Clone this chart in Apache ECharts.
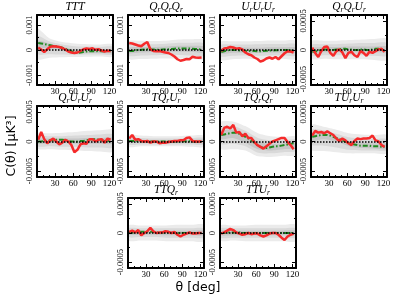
<!DOCTYPE html>
<html><head><meta charset="utf-8">
<script src="https://cdn.jsdelivr.net/npm/echarts@6.0.0/dist/echarts.min.js"></script>
<style>html,body{margin:0;padding:0;background:#fff;}#c{width:399px;height:301px;}</style>
</head><body><div id="c"></div>
<script>
// ---- data (values in units of 1e-4 uK^3) ----
const UNIT = 1e-4;
const theta = [2,7,12,17,22,27,32,37,42,47,52,57,62,67,72,77,82,87,92,97,102,107,112,117,122];
const bandTheta = [0,21,42,63,84,105,126];
const xTickLabels = [30,60,90,120];
const xMinorTicks = [10,20,40,50,70,80,100,110];
const yTicksA = [-0.001, 0, 0.001];
const yMinorA = [-0.0005, 0.0005];
const yTicksB = [-0.0005, 0, 0.0005];
const yMinorB = [-0.00025, 0.00025];

const TTT_red = [1.0,0.2,-0.8,0.3,1.3,1.5,1.4,1.2,0.8,0.2,-0.6,-1.0,-1.2,-1.0,-0.4,0.3,0.6,0.4,0.7,0.1,0.3,-0.2,-0.6,-0.3,-0.4];
const TTT_green = [2.8,2.6,2.4,2.1,1.9,1.6,1.4,1.2,0.9,0.5,0.0,-0.5,-0.9,-1.1,-1.0,-0.8,-0.6,-0.5,-0.5,-0.5,-0.4,-0.5,-0.5,-0.4,-0.5];
const TTT_outerHi = [8.5,4.6,3.2,2.6,2.3,2.2,2.2], TTT_outerLo = [-3.6,-3.1,-2.9,-2.8,-2.7,-2.6,-2.6];
const TTT_midHi = [5.6,3.4,2.2,1.5,1.4,1.3,1.3], TTT_midLo = [-1.6,-1.7,-1.8,-1.9,-1.8,-1.8,-1.8];
const TTT_innerHi = [3.8,2.6,1.3,0.2,0.3,0.3,0.3], TTT_innerLo = [1.2,0.6,-0.4,-1.5,-1.2,-1.2,-1.2];

const QQQ_red = [2.8,2.6,2.2,1.8,1.5,2.5,3.2,0.3,-0.4,-0.5,-0.4,-0.7,-1.0,-1.2,-1.8,-2.6,-3.7,-4.3,-4.0,-3.6,-3.7,-2.7,-3.0,-3.1,-3.0];
const QQQ_green = [-0.4,-0.4,-0.2,0.0,0.1,0.2,0.3,0.2,0.2,0.1,0.1,0.2,0.3,0.3,0.4,0.5,0.6,0.6,0.6,0.6,0.6,0.5,0.4,0.3,0.2];
const QQQ_outerHi = [3.4,3.7,3.6,3.7,4.2,4.3,3.9], QQQ_outerLo = [-3.5,-3.6,-3.5,-3.4,-3.4,-3.6,-3.5];
const QQQ_midHi = [2.2,2.4,2.3,2.5,2.9,2.9,2.6], QQQ_midLo = [-2.3,-2.2,-2.1,-2.0,-2.0,-2.2,-2.2];
const QQQ_innerHi = [0.9,1.2,1.2,1.4,1.7,1.7,1.4], QQQ_innerLo = [-1.3,-1.0,-0.9,-0.8,-0.7,-0.8,-0.9];

const UUU_red = [-0.4,0.6,0.8,1.2,1.0,0.5,0.7,0.2,-1.0,-1.7,-2.1,-3.0,-3.6,-4.6,-4.2,-3.4,-3.0,-3.5,-2.8,-3.7,-2.5,-1.3,-0.5,-0.6,-1.0];
const UUU_green = [-0.8,-0.5,-0.2,0.0,0.1,0.0,-0.2,-0.3,-0.4,-0.4,-0.3,-0.4,-0.5,-0.5,-0.4,-0.3,-0.2,-0.2,-0.1,-0.1,0.0,0.0,-0.1,-0.2,-0.3];
const UUU_outerHi = [3.2,3.5,3.5,3.6,3.8,3.8,3.6], UUU_outerLo = [-3.9,-3.7,-3.5,-3.6,-3.5,-3.5,-3.5];
const UUU_midHi = [2.0,2.2,2.2,2.3,2.4,2.4,2.3], UUU_midLo = [-2.5,-2.3,-2.2,-2.3,-2.2,-2.2,-2.2];
const UUU_innerHi = [0.6,1.0,1.0,0.9,1.1,1.1,1.0], UUU_innerLo = [-1.5,-1.1,-1.1,-1.2,-1.0,-1.0,-1.1];

const QQU_red = [0.4,-0.5,-1.2,-0.2,0.5,0.6,-0.5,-1.0,-0.2,0.1,-0.4,-1.4,-0.5,-0.3,-0.9,-1.2,-0.2,-0.5,-1.0,-0.3,-0.5,-0.2,0.1,0.2,-0.3];
const QQU_green = [-0.3,-0.3,-0.1,0.0,0.1,0.1,0.0,0.0,0.1,0.1,0.2,0.2,0.1,0.1,0.0,0.0,0.1,0.1,0.0,0.0,0.1,0.2,0.2,0.1,0.1];
const QQU_outerHi = [1.5,1.6,1.6,1.7,1.8,1.9,1.9], QQU_outerLo = [-1.5,-1.5,-1.6,-1.6,-1.6,-1.7,-1.7];
const QQU_midHi = [0.9,1.0,1.0,1.1,1.2,1.2,1.2], QQU_midLo = [-1.0,-0.9,-0.9,-0.9,-0.9,-1.0,-1.0];
const QQU_innerHi = [0.3,0.5,0.5,0.6,0.6,0.6,0.6], QQU_innerLo = [-0.6,-0.4,-0.4,-0.4,-0.4,-0.4,-0.4];

const QUU_red = [0.3,1.6,0.4,-0.3,0.2,0.5,0.0,-0.5,-0.2,0.3,0.0,-0.6,-1.8,-1.4,-0.5,-0.3,-0.4,0.4,0.4,0.0,0.3,0.4,-0.2,0.5,0.3];
const QUU_green = [0.0,0.0,0.1,0.1,0.2,0.2,0.3,0.3,0.3,0.2,0.1,0.0,0.0,0.0,0.1,0.1,0.2,0.3,0.4,0.4,0.3,0.2,0.1,0.1,0.1];
const QUU_outerHi = [1.3,1.4,1.5,1.6,1.8,1.9,1.9], QUU_outerLo = [-1.2,-1.3,-1.4,-1.5,-1.6,-1.7,-1.7];
const QUU_midHi = [0.8,0.9,0.9,1.0,1.1,1.2,1.2], QUU_midLo = [-0.8,-0.8,-0.9,-0.9,-1.0,-1.0,-1.0];
const QUU_innerHi = [0.4,0.5,0.5,0.5,0.6,0.6,0.6], QUU_innerLo = [-0.4,-0.3,-0.3,-0.4,-0.4,-0.4,-0.4];

const TQU_red = [0.5,1.1,0.3,0.4,0.1,0.0,0.1,-0.2,0.0,0.0,-0.3,-0.2,-0.2,-0.1,0.0,0.1,0.1,0.2,0.2,0.6,0.7,0.1,0.0,0.0,0.0];
const TQU_green = [0.1,0.1,0.1,0.1,0.05,0.05,0.0,0.0,0.0,0.0,0.0,0.0,0.0,0.0,0.0,0.0,0.0,0.0,0.05,0.05,0.05,0.0,0.0,0.0,0.0];
const TQU_outerHi = [1.1,1.0,0.9,0.9,0.9,1.0,1.0], TQU_outerLo = [-0.9,-0.8,-0.8,-0.8,-0.8,-0.9,-0.9];
const TQU_midHi = [0.6,0.6,0.5,0.5,0.5,0.6,0.6], TQU_midLo = [-0.5,-0.5,-0.5,-0.5,-0.5,-0.5,-0.5];
const TQU_innerHi = [0.3,0.3,0.25,0.25,0.25,0.3,0.3], TQU_innerLo = [-0.2,-0.2,-0.25,-0.25,-0.25,-0.25,-0.25];

const TQQ_red = [1.1,2.3,2.5,2.2,2.8,1.5,1.6,0.9,1.3,0.6,0.6,-0.1,-0.6,-0.9,-1.2,-0.8,-0.4,0.0,0.2,0.4,0.6,0.6,-0.1,-0.6,-1.3];
const TQQ_green = [1.1,1.2,1.3,1.4,1.5,1.5,1.3,1.1,0.8,0.5,0.2,-0.2,-0.6,-0.9,-1.1,-1.1,-1.0,-0.9,-0.8,-0.8,-0.7,-0.6,-0.5,-0.4,-0.3];
const TQQ_outerHi = [3.2,3.4,2.6,1.4,0.9,0.8,0.8], TQQ_outerLo = [-1.2,-1.3,-1.5,-2.5,-2.6,-2.4,-2.3];
const TQQ_midHi = [2.4,2.6,1.8,0.6,0.2,0.2,0.3], TQQ_midLo = [-0.4,-0.4,-0.8,-1.9,-2.0,-1.8,-1.6];
const TQQ_innerHi = [1.7,2.0,1.2,0.0,-0.4,-0.3,-0.1], TQQ_innerLo = [0.4,0.6,-0.2,-1.3,-1.5,-1.3,-1.1];

const TUU_red = [1.0,1.8,1.5,1.6,1.4,1.7,1.4,1.1,0.5,0.1,0.5,0.2,-0.3,-0.6,0.1,0.5,0.4,0.5,0.5,0.6,1.0,0.2,0.0,-0.6,-0.9];
const TUU_green = [0.8,0.9,1.0,1.1,1.1,1.1,1.0,0.8,0.6,0.4,0.2,0.0,-0.2,-0.4,-0.5,-0.6,-0.7,-0.7,-0.7,-0.7,-0.8,-0.8,-0.8,-0.9,-0.9];
const TUU_outerHi = [2.8,2.5,2.0,1.4,1.2,1.1,1.1], TUU_outerLo = [-1.4,-1.6,-1.8,-2.0,-2.0,-2.0,-2.0];
const TUU_midHi = [2.0,1.9,1.3,0.7,0.5,0.4,0.4], TUU_midLo = [-0.5,-0.7,-1.0,-1.4,-1.5,-1.5,-1.5];
const TUU_innerHi = [1.4,1.5,0.8,0.1,-0.2,-0.3,-0.4], TUU_innerLo = [0.2,0.4,0.0,-0.8,-1.1,-1.2,-1.3];

const TTQ_red = [0.2,0.4,0.1,0.5,-0.4,0.0,0.3,0.9,0.3,0.0,0.1,0.1,0.3,0.2,0.0,0.2,-0.3,-0.6,-0.3,-0.1,0.1,-0.1,-0.1,0.0,0.0];
const TTQ_green = [0.1,0.1,0.1,0.2,0.2,0.2,0.2,0.2,0.2,0.1,0.1,0.1,0.1,0.1,0.0,0.0,0.0,0.0,0.0,0.0,0.0,0.0,0.0,0.0,0.0];
const TTQ_outerHi = [1.3,1.3,1.3,1.3,1.4,1.4,1.4], TTQ_outerLo = [-1.3,-1.3,-1.3,-1.4,-1.4,-1.4,-1.4];
const TTQ_midHi = [0.8,0.8,0.8,0.8,0.8,0.8,0.8], TTQ_midLo = [-0.7,-0.7,-0.7,-0.8,-0.8,-0.8,-0.8];
const TTQ_innerHi = [0.4,0.4,0.4,0.4,0.4,0.4,0.4], TTQ_innerLo = [-0.3,-0.3,-0.3,-0.4,-0.4,-0.4,-0.4];

const TTU_red = [-0.1,0.1,0.4,0.7,0.5,0.1,-0.1,-0.3,-0.2,0.0,-0.2,-0.1,-0.1,-0.4,-0.6,-0.4,-0.1,0.0,0.0,-0.3,-0.8,-1.2,-0.6,-0.3,-0.1];
const TTU_green = [0.0,0.0,0.1,0.1,0.1,0.1,0.1,0.0,0.0,0.0,0.0,0.0,0.0,0.0,0.0,0.0,0.0,0.0,0.0,0.0,0.0,0.0,0.0,0.0,0.0];
const TTU_outerHi = [1.3,1.3,1.3,1.4,1.4,1.4,1.4], TTU_outerLo = [-1.3,-1.3,-1.4,-1.4,-1.4,-1.4,-1.4];
const TTU_midHi = [0.8,0.8,0.8,0.8,0.8,0.8,0.8], TTU_midLo = [-0.8,-0.8,-0.8,-0.8,-0.8,-0.8,-0.8];
const TTU_innerHi = [0.4,0.4,0.4,0.4,0.4,0.4,0.4], TTU_innerLo = [-0.4,-0.4,-0.4,-0.4,-0.4,-0.4,-0.4];

const panels = [
  {title:'TTT',       pos:[0,0], scale:'A', red:TTT_red, green:TTT_green, bands:[[TTT_outerLo,TTT_outerHi],[TTT_midLo,TTT_midHi],[TTT_innerLo,TTT_innerHi]]},
  {title:'Q_rQ_rQ_r', pos:[0,1], scale:'A', red:QQQ_red, green:QQQ_green, bands:[[QQQ_outerLo,QQQ_outerHi],[QQQ_midLo,QQQ_midHi],[QQQ_innerLo,QQQ_innerHi]]},
  {title:'U_rU_rU_r', pos:[0,2], scale:'A', red:UUU_red, green:UUU_green, bands:[[UUU_outerLo,UUU_outerHi],[UUU_midLo,UUU_midHi],[UUU_innerLo,UUU_innerHi]]},
  {title:'Q_rQ_rU_r', pos:[0,3], scale:'B', red:QQU_red, green:QQU_green, bands:[[QQU_outerLo,QQU_outerHi],[QQU_midLo,QQU_midHi],[QQU_innerLo,QQU_innerHi]]},
  {title:'Q_rU_rU_r', pos:[1,0], scale:'B', red:QUU_red, green:QUU_green, bands:[[QUU_outerLo,QUU_outerHi],[QUU_midLo,QUU_midHi],[QUU_innerLo,QUU_innerHi]]},
  {title:'TQ_rU_r',   pos:[1,1], scale:'B', red:TQU_red, green:TQU_green, bands:[[TQU_outerLo,TQU_outerHi],[TQU_midLo,TQU_midHi],[TQU_innerLo,TQU_innerHi]]},
  {title:'TQ_rQ_r',   pos:[1,2], scale:'B', red:TQQ_red, green:TQQ_green, bands:[[TQQ_outerLo,TQQ_outerHi],[TQQ_midLo,TQQ_midHi],[TQQ_innerLo,TQQ_innerHi]]},
  {title:'TU_rU_r',   pos:[1,3], scale:'B', red:TUU_red, green:TUU_green, bands:[[TUU_outerLo,TUU_outerHi],[TUU_midLo,TUU_midHi],[TUU_innerLo,TUU_innerHi]]},
  {title:'TTQ_r',     pos:[2,1], scale:'B', red:TTQ_red, green:TTQ_green, bands:[[TTQ_outerLo,TTQ_outerHi],[TTQ_midLo,TTQ_midHi],[TTQ_innerLo,TTQ_innerHi]]},
  {title:'TTU_r',     pos:[2,2], scale:'B', red:TTU_red, green:TTU_green, bands:[[TTU_outerLo,TTU_outerHi],[TTU_midLo,TTU_midHi],[TTU_innerLo,TTU_innerHi]]}
];

// ---- layout / style ----
const colLeft = [37,128,220,311];
const rowTop = [15,106,198];
const rowH = [70,71,70];
const PANEL_W = 76;
const X_MAX = 126;
const Y_MAX_A = 0.0014, Y_MAX_B = 0.0006;
const SERIF = '"Liberation Serif","DejaVu Serif",serif';
const SANS = '"DejaVu Sans","Liberation Sans",sans-serif';
const BAND_COLORS = ['#ebebeb','#d9d9d9','#c6c6c6'];

function richTitle(s){
  return s.replace(/([A-Za-z])(?:_([a-z]))?/g, (m,a,b) => '{b|'+a+'}' + (b ? '{s|'+b+'}' : ''));
}

// band polygon through the axis scales (api.coord)
function bandRenderer(lo, hi, color){
  return function(params, api){
    if (params.dataIndex !== 0) return null;
    const upper = bandTheta.map((t,j)=>api.coord([t, hi[j]*UNIT]));
    const lower = bandTheta.map((t,j)=>api.coord([t, lo[j]*UNIT])).reverse();
    const cs = params.coordSys;
    return {
      type:'polygon',
      shape:{points: upper.concat(lower), smooth:0.25},
      style:{fill:color, stroke:'none'},
      clipPath:{type:'rect', shape:{x:cs.x, y:cs.y, width:cs.width, height:cs.height}},
      silent:true
    };
  };
}

const grids=[], xAxes=[], yAxes=[], series=[], graphics=[];
panels.forEach((p,i) => {
  const [r,c] = p.pos;
  const left = colLeft[c], top = rowTop[r], h = rowH[r];
  grids.push({left:left, top:top, width:PANEL_W, height:h, outerBoundsMode:'none', containLabel:false});
  const yMax = p.scale==='A' ? Y_MAX_A : Y_MAX_B;
  const yT = p.scale==='A' ? yTicksA : yTicksB;
  const yM = p.scale==='A' ? yMinorA : yMinorB;
  const xi = xAxes.length, yi = yAxes.length;
  const frame = {color:'#000', width:2};
  const mkX = (pos, main, labels) => ({
    gridIndex:i, type:'value', min:0, max:X_MAX, position:pos, z:10,
    axisLine:{show:main, onZero:false, lineStyle:frame},
    axisTick:{show:true, inside:true, length: main?4:2, customValues: main ? xTickLabels : xMinorTicks, lineStyle:{color:'#000', width:1}},
    axisLabel:{show:labels, customValues:xTickLabels, margin:2, fontSize:9, fontFamily:SERIF, color:'#000'},
    splitLine:{show:false}
  });
  const mkY = (pos, main, labels) => ({
    gridIndex:i, type:'value', min:-yMax, max:yMax, position:pos, z:10,
    axisLine:{show:main, onZero:false, lineStyle:frame},
    axisTick:{show:true, inside:true, length: main?4:2, customValues: main ? yT : yM, lineStyle:{color:'#000', width:1}},
    axisLabel:{show:labels, customValues:yT, rotate:90, margin:3, fontSize:8.5, fontFamily:SERIF, color:'#000', formatter:(v)=>String(v)},
    splitLine:{show:false}
  });
  xAxes.push(mkX('bottom',true,true), mkX('bottom',false,false), mkX('top',true,false), mkX('top',false,false));
  yAxes.push(mkY('left',true,true), mkY('left',false,false), mkY('right',true,false), mkY('right',false,false));

  p.bands.forEach((b,k) => {
    const lo = b[0], hi = b[1];
    series.push({type:'custom', xAxisIndex:xi, yAxisIndex:yi, silent:true, z:1,
      data: bandTheta.map((t,j)=>[t, lo[j]*UNIT, hi[j]*UNIT]),
      encode:{x:0, y:[1,2]},
      renderItem: bandRenderer(lo, hi, BAND_COLORS[k])});
  });
  series.push({type:'line', xAxisIndex:xi, yAxisIndex:yi,
    data: theta.map((t,j)=>[t, p.green[j]*UNIT]), symbol:'none',
    lineStyle:{color:'#1f8a1f', width:2, type:[5,2,1.5,2]}, z:3, silent:true,
    markLine:{silent:true, symbol:['none','none'], label:{show:false}, animation:false,
      lineStyle:{color:'#000', type:[1.5,1.5], width:1.5}, data:[{yAxis:0}]}});
  series.push({type:'line', xAxisIndex:xi, yAxisIndex:yi,
    data: theta.map((t,j)=>[t, p.red[j]*UNIT]), symbol:'none',
    lineStyle:{color:'#f52a2a', width:2.5}, z:4, silent:true});

  graphics.push({type:'text', x:left+PANEL_W/2, y:top-8, z:20, style:{
    text: richTitle(p.title), align:'center', verticalAlign:'middle', fill:'#000',
    rich:{
      b:{fontSize:11.5, fontStyle:'italic', fontFamily:SERIF, lineHeight:14, verticalAlign:'middle', fill:'#000'},
      s:{fontSize:7.5, fontStyle:'italic', fontFamily:SERIF, lineHeight:8, verticalAlign:'bottom', fill:'#000'}
    }}});
});

graphics.push({type:'text', x:12, y:146, rotation:Math.PI/2, style:{text:'C(θ) [μK³]', font:'12.5px '+SANS, align:'center', verticalAlign:'middle', fill:'#000'}});
graphics.push({type:'text', x:198, y:288, style:{text:'θ [deg]', font:'12.5px '+SANS, align:'center', verticalAlign:'middle', fill:'#000'}});

const chart = echarts.init(document.getElementById('c'), null, {renderer:'canvas'});
chart.setOption({
  animation:false,
  backgroundColor:'#fff',
  grid:grids, xAxis:xAxes, yAxis:yAxes, series:series,
  graphic:{elements:graphics}
});
</script>
</body></html>
